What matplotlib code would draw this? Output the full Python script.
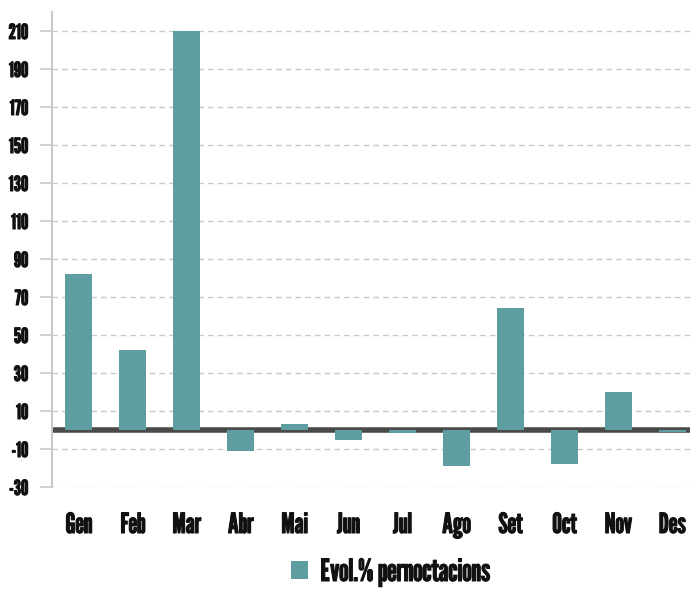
import matplotlib
matplotlib.use('Agg')
import matplotlib.pyplot as plt
import matplotlib.patheffects as pe
from matplotlib.patches import Patch

# dades
mesos = ['Gen', 'Feb', 'Mar', 'Abr', 'Mai', 'Jun', 'Jul', 'Ago', 'Set', 'Oct', 'Nov', 'Des']
evol_pernoctacions = [82, 42, 210, -11, 3, -5, -1.5, -19, 64, -18, 20, -1]
yticks = list(range(-30, 211, 20))

color_barra = '#5f9ea0'
plt.rcParams['font.family'] = ['League Gothic', 'DejaVu Sans']
gruix = [pe.withStroke(linewidth=0.75, foreground='#111111')]

fig = plt.figure(figsize=(6.9, 5.92), dpi=100)
ax = fig.add_axes([52/690, 1 - 487/592, 1 - 52/690, (487 - 12)/592])

x = list(range(len(mesos)))
ax.bar(x, evol_pernoctacions, width=0.5, color=color_barra, zorder=3)
ax.axhline(0, color='#4a4a4a', linewidth=4, zorder=2)

ax.set_xlim(-0.5, 11.33)
ax.set_ylim(-30, 220)
ax.set_yticks(yticks)
ax.set_yticklabels([str(v) for v in yticks])
ax.set_xticks(x)
ax.set_xticklabels(mesos)

ax.grid(axis='y', color='#c8c8c8', linestyle=(0, (4, 3)), linewidth=1, zorder=0)
for s in ['top', 'right', 'bottom']:
    ax.spines[s].set_visible(False)
ax.spines['left'].set_color('#c8c8c8')
ax.spines['left'].set_linewidth(1.5)

ax.tick_params(axis='y', length=9, color='#c8c8c8', width=1.2, pad=8, labelsize=15,
               labelcolor='#111111')
ax.tick_params(axis='x', length=0, pad=18, labelsize=20, labelcolor='#111111')
for t in ax.get_xticklabels() + ax.get_yticklabels():
    t.set_path_effects(gruix)

handles = [Patch(facecolor=color_barra, label='Evol.% pernoctacions')]
leg = fig.legend(handles=handles, loc='lower center', bbox_to_anchor=(0.566, -0.038),
                 frameon=False, fontsize=22, handlelength=0.55, handleheight=0.55,
                 handletextpad=0.4)
for t in leg.get_texts():
    t.set_color('#111111')
    t.set_path_effects(gruix)

fig.savefig('out.png', dpi=100)
